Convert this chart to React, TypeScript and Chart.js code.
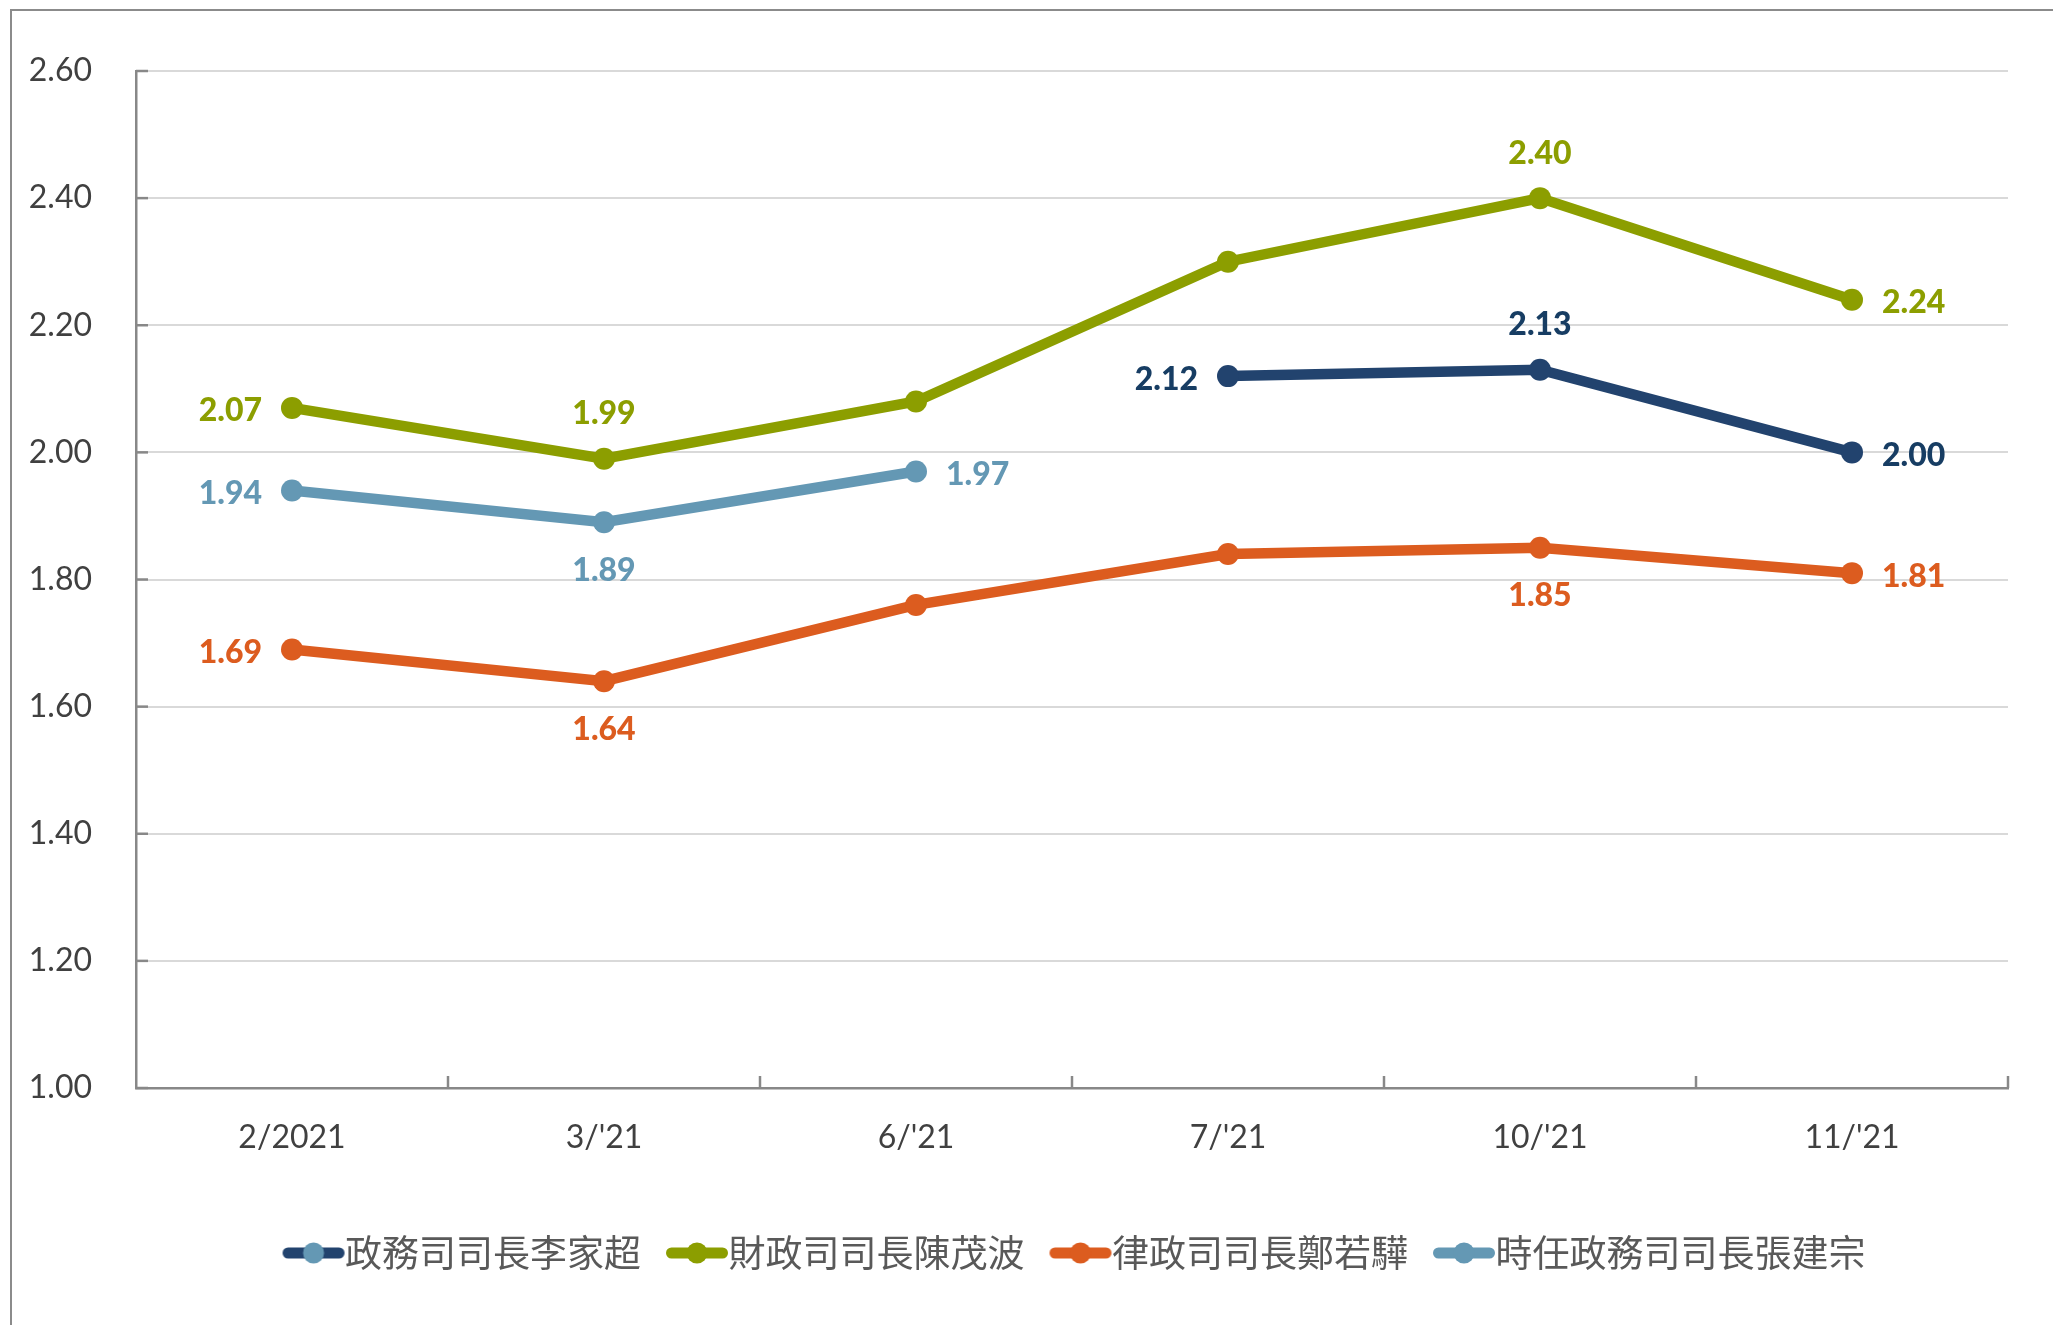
import React, { useEffect, useRef } from "react";
import { Chart, registerables } from "chart.js";

Chart.register(...registerables);

// ---------- data ----------
const categories = ["2/2021", "3/'21", "6/'21", "7/'21", "10/'21", "11/'21"];
const seriesNames = [
  "政務司司長李家超",
  "財政司司長陳茂波",
  "律政司司長鄭若驊",
  "時任政務司司長張建宗",
];
const leeKaChiu = [null, null, null, 2.12, 2.13, 2.0];
const chanMoPo = [2.07, 1.99, 2.08, 2.3, 2.4, 2.24];
const chengYeukWah = [1.69, 1.64, 1.76, 1.84, 1.85, 1.81];
const cheungKinChung = [1.94, 1.89, 1.97, null, null, null];
const yTickValues = [1.0, 1.2, 1.4, 1.6, 1.8, 2.0, 2.2, 2.4, 2.6];

// which points carry a value label, and on which side
const leeLabelSides = [null, null, null, "left", "above", "right"];
const chanLabelSides = ["left", "above", null, null, "above", "right"];
const chengLabelSides = ["left", "below", null, null, "below", "right"];
const cheungLabelSides = ["left", "below", "right", null, null, null];

// ---------- styles ----------
const lineColors = ["#22436E", "#8C9E00", "#DC5C1F", "#6498B4"];
const labelColors = ["#173D63", "#8C9E00", "#DC5C1F", "#6498B4"];
const legendDotColors = ["#6498B4", "#8C9E00", "#DC5C1F", "#6498B4"];
const AXIS_COLOR = "#888888";
const GRID_COLOR = "#D9D9D9";
const TEXT_COLOR = "#404040";
const NUM_FONT = "Lato, 'Liberation Sans', sans-serif";
const CJK_FONT = "'Noto Sans CJK TC', 'Noto Sans CJK SC', sans-serif";

function makeLegendMarker(line: string, dot: string) {
  const c = document.createElement("canvas");
  c.width = 64;
  c.height = 24;
  const g = c.getContext("2d")!;
  g.strokeStyle = line;
  g.lineWidth = 11;
  g.lineCap = "round";
  g.beginPath();
  g.moveTo(6.5, 12);
  g.lineTo(57.5, 12);
  g.stroke();
  g.fillStyle = dot;
  g.beginPath();
  g.arc(32, 12, 10.5, 0, Math.PI * 2);
  g.fill();
  return c;
}

export default function App() {
  const ref = useRef<HTMLCanvasElement | null>(null);

  useEffect(() => {
    const canvas = ref.current;
    if (!canvas) return;

    const labelSides = [leeLabelSides, chanLabelSides, chengLabelSides, cheungLabelSides];
    const seriesData = [leeKaChiu, chanMoPo, chengYeukWah, cheungKinChung];
    const markers = lineColors.map((c, i) => makeLegendMarker(c, legendDotColors[i]));

    const decor = {
      id: "decor",
      afterLayout(chart: any) {
        const lg = chart.legend;
        if (lg) {
          lg.left = 158;
          lg.right = 2008;
        }
      },
      beforeDraw(chart: any) {
        const ctx = chart.ctx;
        ctx.save();
        ctx.strokeStyle = "#8B8B8B";
        ctx.lineWidth = 2;
        ctx.beginPath();
        ctx.moveTo(11, 1325);
        ctx.lineTo(11, 10);
        ctx.lineTo(2053, 10);
        ctx.stroke();
        ctx.restore();
      },
      beforeDatasetsDraw(chart: any) {
        const ctx = chart.ctx;
        const xs = chart.scales.x;
        const ys = chart.scales.y;
        const area = chart.chartArea;
        ctx.save();
        ctx.strokeStyle = AXIS_COLOR;
        ctx.lineWidth = 2.5;
        // inward y ticks
        yTickValues.forEach((v) => {
          const y = ys.getPixelForValue(v);
          ctx.beginPath();
          ctx.moveTo(area.left, y);
          ctx.lineTo(area.left + 12, y);
          ctx.stroke();
        });
        // inward x ticks at category boundaries
        const n = categories.length;
        for (let i = 1; i <= n; i++) {
          const x =
            i < n
              ? (xs.getPixelForValue(i - 1) + xs.getPixelForValue(i)) / 2
              : area.right;
          ctx.beginPath();
          ctx.moveTo(x, area.bottom);
          ctx.lineTo(x, area.bottom - 12);
          ctx.stroke();
        }
        ctx.restore();
      },
      afterDatasetsDraw(chart: any) {
        const ctx = chart.ctx;
        ctx.save();
        ctx.font = `900 32px ${NUM_FONT}`;
        chart.data.datasets.forEach((ds: any, di: number) => {
          const meta = chart.getDatasetMeta(di);
          const sides = labelSides[di];
          meta.data.forEach((pt: any, i: number) => {
            const side = sides[i];
            const v = ds.data[i];
            if (!side || v == null) return;
            const text = Number(v).toFixed(2);
            ctx.fillStyle = labelColors[di];
            ctx.textBaseline = "alphabetic";
            let x = pt.x;
            let cy = pt.y;
            if (side === "left") {
              ctx.textAlign = "right";
              x -= 30;
              cy += 2;
            } else if (side === "right") {
              ctx.textAlign = "left";
              x += 30;
              cy += 2;
            } else if (side === "above") {
              ctx.textAlign = "center";
              cy -= 46;
            } else {
              ctx.textAlign = "center";
              cy += 47;
            }
            ctx.fillText(text, x, cy + 11.5);
          });
        });
        ctx.restore();
      },
    };

    const chart = new Chart(canvas, {
      type: "line",
      data: {
        labels: categories,
        datasets: seriesNames.map((name, i) => ({
          label: name,
          data: seriesData[i],
          borderColor: lineColors[i],
          backgroundColor: lineColors[i],
          pointBackgroundColor: lineColors[i],
          pointBorderColor: lineColors[i],
          borderWidth: 10.5,
          pointRadius: 11,
          pointBorderWidth: 0,
          pointHoverRadius: 11,
          tension: 0,
          spanGaps: false,
          fill: false,
        })),
      },
      options: {
        responsive: false,
        maintainAspectRatio: false,
        animation: false,
        events: [],
        layout: { padding: { left: 0, right: 45, top: 71, bottom: 43.5 } },
        plugins: {
          tooltip: { enabled: false },
          title: { display: false },
          legend: {
            display: true,
            position: "bottom",
            align: "center",
            labels: {
              usePointStyle: true,
              pointStyleWidth: 26,
              boxHeight: 37,
              padding: 43,
              color: "#595959",
              font: { family: CJK_FONT, size: 37 },
              generateLabels: (ch: any) =>
                ch.data.datasets.map((ds: any, i: number) => ({
                  text: ds.label,
                  fillStyle: lineColors[i],
                  strokeStyle: lineColors[i],
                  lineWidth: 0,
                  pointStyle: markers[i],
                  hidden: false,
                  datasetIndex: i,
                  fontColor: "#595959",
                })),
            },
          },
        },
        scales: {
          x: {
            type: "category",
            offset: true,
            grid: { display: false, drawTicks: false, offset: true },
            border: { display: true, color: AXIS_COLOR, width: 2.5 },
            ticks: {
              color: TEXT_COLOR,
              font: { family: NUM_FONT, size: 32 },
              padding: 30,
              maxRotation: 0,
              autoSkip: false,
            },
            afterFit: (s: any) => {
              s.height = 103.5;
            },
          },
          y: {
            type: "linear",
            min: 1.0,
            max: 2.6,
            grid: { color: GRID_COLOR, lineWidth: 2, drawTicks: false },
            border: { display: true, color: AXIS_COLOR, width: 2.5 },
            ticks: {
              color: TEXT_COLOR,
              font: { family: NUM_FONT, size: 32 },
              padding: 44,
              callback: (v: any) => Number(v).toFixed(2),
            },
            afterBuildTicks: (s: any) => {
              s.ticks = yTickValues.map((v) => ({ value: v }));
            },
            afterFit: (s: any) => {
              s.width = 136;
            },
          },
        },
      },
      plugins: [decor],
    } as any);

    return () => chart.destroy();
  }, []);

  return (
    <div style={{ position: "absolute", left: 0, top: 0, width: 2053, height: 1325, background: "#fff" }}>
      <canvas ref={ref} width={2053} height={1325} style={{ display: "block" }} />
    </div>
  );
}
